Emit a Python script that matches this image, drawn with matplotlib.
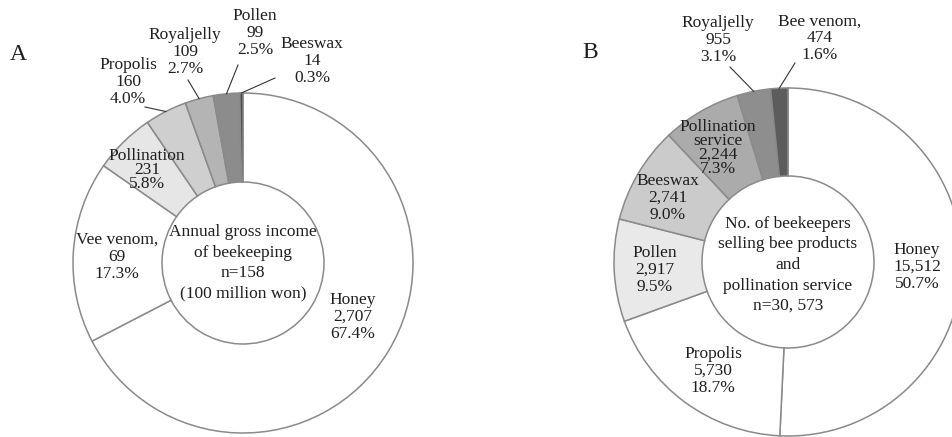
import matplotlib.pyplot as plt
import numpy as np

plt.rcParams['font.family'] = ['Liberation Serif', 'DejaVu Serif']

W, H = 953, 437

# A: annual gross income of beekeeping (100 million won)
a_names = ['Honey', 'Vee venom,', 'Pollination', 'Propolis', 'Royaljelly', 'Pollen', 'Beeswax']
a_counts = ['2,707', '69', '231', '160', '109', '99', '14']
a_pct = [67.4, 17.3, 5.8, 4.0, 2.7, 2.5, 0.3]
a_colors = ['white', 'white', '#e6e6e6', '#cfcfcf', '#b4b4b4', '#8c8c8c', '#4a4a4a']

# B: number of beekeepers selling bee products and pollination service
b_names = ['Honey', 'Propolis', 'Pollen', 'Beeswax', 'Pollination\nservice', 'Royaljelly', 'Bee venom,']
b_counts = ['15,512', '5,730', '2,917', '2,741', '2,244', '955', '474']
b_pct = [50.7, 18.7, 9.5, 9.0, 7.3, 3.1, 1.6]
b_colors = ['white', 'white', '#e9e9e9', '#cbcbcb', '#ababab', '#8e8e8e', '#5c5c5c']

fig = plt.figure(figsize=(W / 100, H / 100), dpi=100)
ax = fig.add_axes([0, 0, 1, 1])

TXT = '#1e1e1e'


def donut(pct, colors, cx, cy, r_out, r_in):
    wedges, _ = ax.pie(pct, colors=colors, center=(cx, H - cy), radius=r_out,
                       startangle=90, counterclock=False,
                       wedgeprops=dict(width=r_out - r_in, edgecolor='#8a8a8a',
                                       linewidth=1.1))
    return wedges


def label(x, y, s, ls=1.1, size=12.5):
    ax.text(x, H - y, s, ha='center', va='center', fontsize=size,
            linespacing=ls, color=TXT)


def leader(w, cx, cy, r, x, y):
    ang = np.deg2rad((w.theta1 + w.theta2) / 2)
    px = cx + r * np.cos(ang)
    py = H - cy + r * np.sin(ang)
    ax.plot([x, px], [H - y, py], color='#333333', lw=0.8)


# chart A
acx, acy, ar_out, ar_in = 243, 263, 170, 81
wa = donut(a_pct, a_colors, acx, acy, ar_out, ar_in)
a_pos = [(353, 317, 1.1), (117, 257, 1.1), (147, 170, 0.82), (128, 82, 1.1),
         (185, 52, 1.1), (255, 33, 1.1), (312, 61, 1.1)]
for name, cnt, p, (x, y, ls) in zip(a_names, a_counts, a_pct, a_pos):
    label(x, y, f'{name}\n{cnt}\n{p:.1f}%', ls)
leader(wa[3], acx, acy, ar_out, 145, 107)
leader(wa[4], acx, acy, ar_out, 188, 80)
leader(wa[5], acx, acy, ar_out, 238, 65)
leader(wa[6], acx, acy, ar_out, 275, 78)
label(acx, 263, 'Annual gross income\nof beekeeping\nn=158\n(100 million won)', 1.38)
label(18, 55, 'A', size=17)

# chart B
bcx, bcy, br_out, br_in = 788, 262, 174, 86
wb = donut(b_pct, b_colors, bcx, bcy, br_out, br_in)
b_pos = [(917, 267, 1.05), (713, 371, 1.05), (655, 270, 1.05), (668, 198, 1.05),
         (718, 148, 0.82), (718, 40, 1.05), (820, 38, 1.05)]
for name, cnt, p, (x, y, ls) in zip(b_names, b_counts, b_pct, b_pos):
    label(x, y, f'{name}\n{cnt}\n{p:.1f}%', ls)
leader(wb[5], bcx, bcy, br_out, 730, 67)
leader(wb[6], bcx, bcy, br_out, 795, 63)
label(bcx, 265, 'No. of beekeepers\nselling bee products\nand\npollination service\nn=30, 573', 1.38)
label(590, 53, 'B', size=17)

ax.set_xlim(0, W)
ax.set_ylim(0, H)
ax.set_aspect('equal')
ax.axis('off')

fig.savefig('out.png', dpi=100, facecolor='white')
